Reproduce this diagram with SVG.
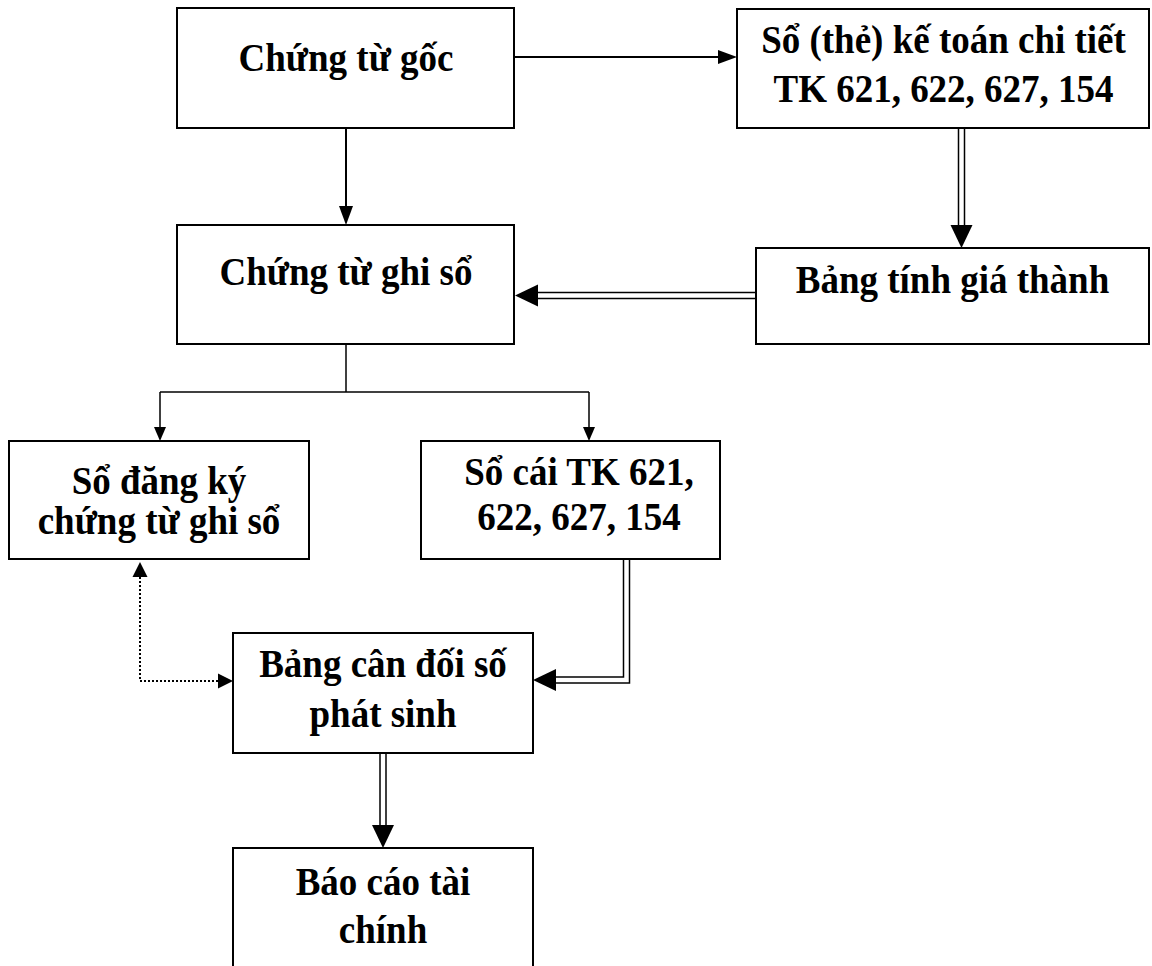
<svg xmlns="http://www.w3.org/2000/svg" width="1152" height="966" viewBox="0 0 1152 966">
  <style>
    .box { fill: #ffffff; stroke: #000000; stroke-width: 2; }
    .lbl { font-family: "Liberation Serif", "Times New Roman", serif; font-weight: bold; font-size: 37px; fill: #000000; text-anchor: middle; }
    .line { fill: none; stroke: #000000; stroke-width: 2; }
    .thin { fill: none; stroke: #000000; stroke-width: 1.5; }
    .dbl-outer { fill: none; stroke: #000000; stroke-width: 7.5; stroke-linejoin: miter; }
    .dbl-inner { fill: none; stroke: #ffffff; stroke-width: 4.5; stroke-linejoin: miter; }
    .dot { fill: none; stroke: #000000; stroke-width: 2; stroke-dasharray: 2 2; }
  </style>
  <defs>
    <!-- arrowheads: base sits at the path end, tip points forward -->
    <marker id="arr" markerUnits="userSpaceOnUse" markerWidth="19" markerHeight="14" refX="0" refY="7" orient="auto" overflow="visible">
      <path d="M0,0 L19,7 L0,14 Z" fill="#000"/>
    </marker>
    <marker id="arr-sm" markerUnits="userSpaceOnUse" markerWidth="14" markerHeight="12" refX="0" refY="6" orient="auto" overflow="visible">
      <path d="M0,0 L14,6 L0,12 Z" fill="#000"/>
    </marker>
    <marker id="arr-dbl" markerUnits="userSpaceOnUse" markerWidth="23" markerHeight="22" refX="0" refY="11" orient="auto" overflow="visible">
      <path d="M0,0 L23,11 L0,22 Z" fill="#000"/>
    </marker>
    <marker id="arr-dot" markerUnits="userSpaceOnUse" markerWidth="15" markerHeight="15" refX="0" refY="7.5" orient="auto-start-reverse" overflow="visible">
      <path d="M0,0 L15,7.5 L0,15 Z" fill="#000"/>
    </marker>
  </defs>

  <g id="connectors">
    <!-- Chứng từ gốc -> Sổ chi tiết -->
    <path class="line" d="M514,57 L718,57" marker-end="url(#arr)"/>
    <!-- Chứng từ gốc -> Chứng từ ghi sổ -->
    <path class="line" d="M346,128 L346,206" marker-end="url(#arr)"/>
    <!-- Sổ chi tiết => Bảng tính giá thành -->
    <path class="dbl-outer" d="M961.5,128 L961.5,225" marker-end="url(#arr-dbl)"/>
    <path class="dbl-inner" d="M961.5,126 L961.5,225"/>
    <!-- Bảng tính giá thành => Chứng từ ghi sổ -->
    <path class="dbl-outer" d="M756,295.5 L538,295.5" marker-end="url(#arr-dbl)"/>
    <path class="dbl-inner" d="M758,295.5 L538,295.5"/>
    <!-- Chứng từ ghi sổ -> split to the two books -->
    <path class="thin" d="M346,344 L346,392" stroke-width="1"/>
    <path class="thin" d="M160,392 L589,392"/>
    <path class="thin" d="M160,392 L160,427" marker-end="url(#arr-sm)"/>
    <path class="thin" d="M589,392 L589,427" marker-end="url(#arr-sm)"/>
    <!-- Sổ cái => Bảng cân đối số phát sinh -->
    <path class="dbl-outer" d="M626.5,559 L626.5,680 L556,680" marker-end="url(#arr-dbl)"/>
    <path class="dbl-inner" d="M626.5,557 L626.5,680 L556,680"/>
    <!-- Bảng cân đối <-> Sổ đăng ký (dotted, two-way) -->
    <path class="dot" d="M218,681 L140,681 L140,577" marker-start="url(#arr-dot)" marker-end="url(#arr-dot)"/>
    <!-- Bảng cân đối => Báo cáo tài chính -->
    <path class="dbl-outer" d="M383,753 L383,825" marker-end="url(#arr-dbl)"/>
    <path class="dbl-inner" d="M383,751 L383,825"/>
  </g>

  <!-- labels are set slightly taller than wide: matrix(1,0,0,1.07,x,baseline) -->
  <g id="chung-tu-goc">
    <rect class="box" x="177" y="8" width="337" height="120"/>
    <text class="lbl" transform="matrix(1,0,0,1.07,346,71)">Chứng từ gốc</text>
  </g>

  <g id="so-chi-tiet">
    <rect class="box" x="737" y="9" width="412" height="119"/>
    <text class="lbl" transform="matrix(1,0,0,1.07,943.5,53)">Sổ (thẻ) kế toán chi tiết</text>
    <text class="lbl" transform="matrix(1,0,0,1.07,943.5,102)">TK 621, 622, 627, 154</text>
  </g>

  <g id="bang-tinh-gia-thanh">
    <rect class="box" x="756" y="248" width="393" height="96"/>
    <text class="lbl" transform="matrix(1,0,0,1.07,952.5,293)">Bảng tính giá thành</text>
  </g>

  <g id="chung-tu-ghi-so">
    <rect class="box" x="177" y="225" width="337" height="119"/>
    <text class="lbl" transform="matrix(1,0,0,1.07,346,285)">Chứng từ ghi sổ</text>
  </g>

  <g id="so-dang-ky">
    <rect class="box" x="9" y="441" width="300" height="118"/>
    <text class="lbl" transform="matrix(1,0,0,1.07,159,494)">Sổ đăng ký</text>
    <text class="lbl" transform="matrix(1,0,0,1.07,159,534)">chứng từ ghi sổ</text>
  </g>

  <g id="so-cai">
    <rect class="box" x="421" y="441" width="299" height="118"/>
    <text class="lbl" transform="matrix(1,0,0,1.07,579,485)">Sổ cái TK 621,</text>
    <text class="lbl" transform="matrix(1,0,0,1.07,579,530)">622, 627, 154</text>
  </g>

  <g id="bang-can-doi">
    <rect class="box" x="233" y="633" width="300" height="120"/>
    <text class="lbl" transform="matrix(1,0,0,1.07,383,677)">Bảng cân đối số</text>
    <text class="lbl" transform="matrix(1,0,0,1.07,383,727)">phát sinh</text>
  </g>

  <g id="bao-cao-tai-chinh">
    <rect class="box" x="233" y="848" width="300" height="140"/>
    <text class="lbl" transform="matrix(1,0,0,1.07,383,895)">Báo cáo tài</text>
    <text class="lbl" transform="matrix(1,0,0,1.07,383,943)">chính</text>
  </g>
</svg>
